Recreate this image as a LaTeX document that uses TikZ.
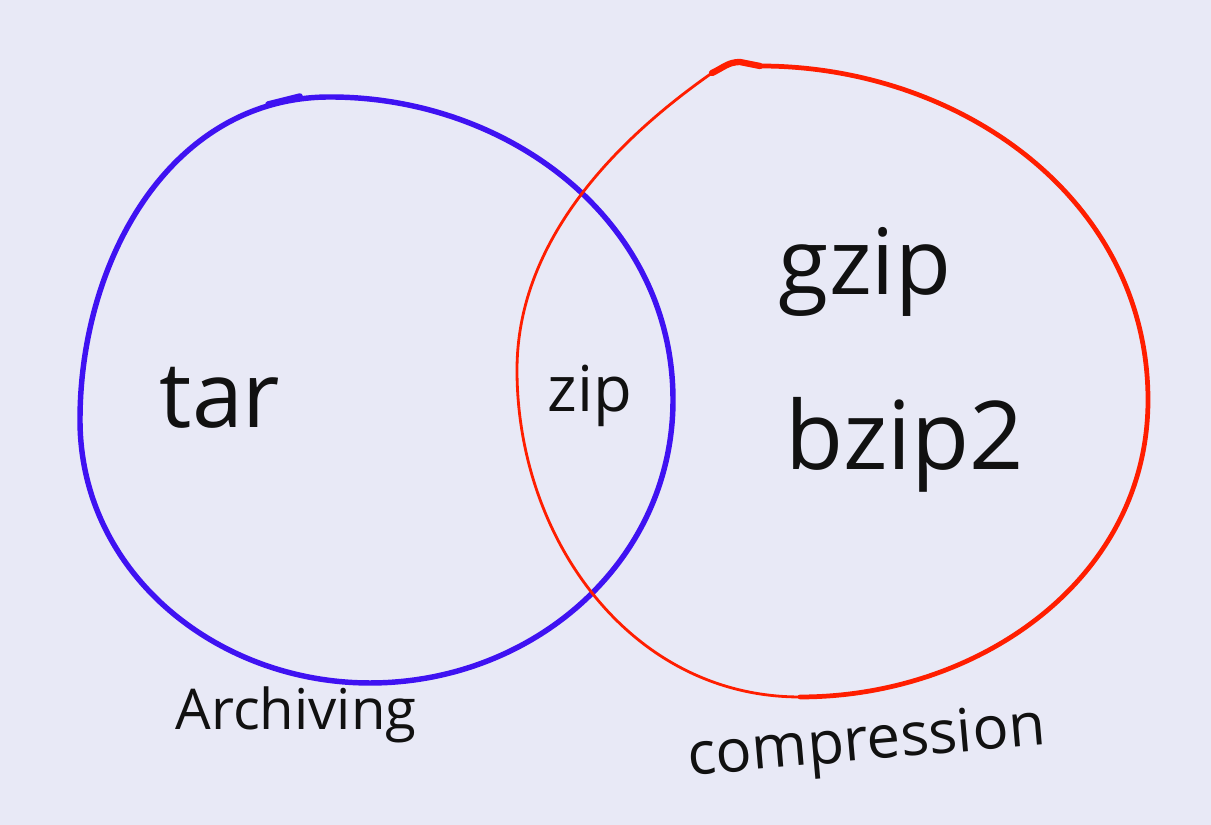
\documentclass[tikz,border=0pt]{standalone}
\usepackage{fontspec}
\setmainfont{Open Sans}
\usetikzlibrary{positioning}
\definecolor{paperlilac}{HTML}{E8E9F6}
\definecolor{archblue}{HTML}{3F12F2}
\definecolor{comprred}{HTML}{FF1E00}
\definecolor{inkblack}{HTML}{111111}

\tikzset{
  bluering/.style={archblue, line width=1.55pt, line cap=round},
  redring/.style={comprred, line width=1.35pt, line cap=round},
  thinred/.style={comprred, line width=0.8pt, line cap=round},
  bigword/.style={inkblack, anchor=base, font=\fontsize{26}{30}\selectfont},
  setname/.style={inkblack, anchor=base, font=\fontsize{16}{20}\selectfont}
}

\begin{document}
\begin{tikzpicture}[x=0.01cm, y=0.01cm]
  \fill[paperlilac] (0,0) rectangle (1211,825);
  \useasboundingbox (0,0) rectangle (1211,825);

  % archiving set
  \coordinate (btop) at (330,728);
  \coordinate (bright) at (673,425);
  \coordinate (bbottom) at (370,142);
  \coordinate (bleft) at (80,405);
  \draw[bluering] (btop) to[out=0, in=90] (bright)
    to[out=-90, in=0] (bbottom)
    to[out=180, in=-90] (bleft)
    to[out=90, in=180] (btop);
  \draw[bluering] (268,721) -- (300,729);

  % compression set
  \coordinate (rtop) at (760,759);
  \coordinate (rright) at (1148,425);
  \coordinate (rbottom) at (800,128);
  \coordinate (rleft) at (517,455);
  \coordinate (rhook) at (712,752);
  \draw[redring] (rtop) to[out=0, in=90] (rright)
    to[out=-90, in=0] (rbottom);
  \draw[thinred] (rbottom) to[out=180, in=-90] (rleft)
    to[out=90, in=215, looseness=0.9] (rhook);
  \draw[redring, line width=1.8pt] (rhook) to[out=25, in=180] (740,763) -- (rtop);

  % members
  \node[bigword] (tar) at (220,397) {tar};
  \node[bigword, font=\fontsize{18}{22}\selectfont] (zip) at (590,413) {zip};
  \node[bigword] (gzip) at (865,530) {gzip};
  \node[bigword, font=\fontsize{27}{32}\selectfont] (bzip) at (905,355) {bzip2};

  % set names
  \node[setname] (archiving) at (296,95) {Archiving};
  \node[setname, font=\fontsize{17}{21}\selectfont, rotate=5] (compression) at (868,65) {compression};
\end{tikzpicture}
\end{document}
